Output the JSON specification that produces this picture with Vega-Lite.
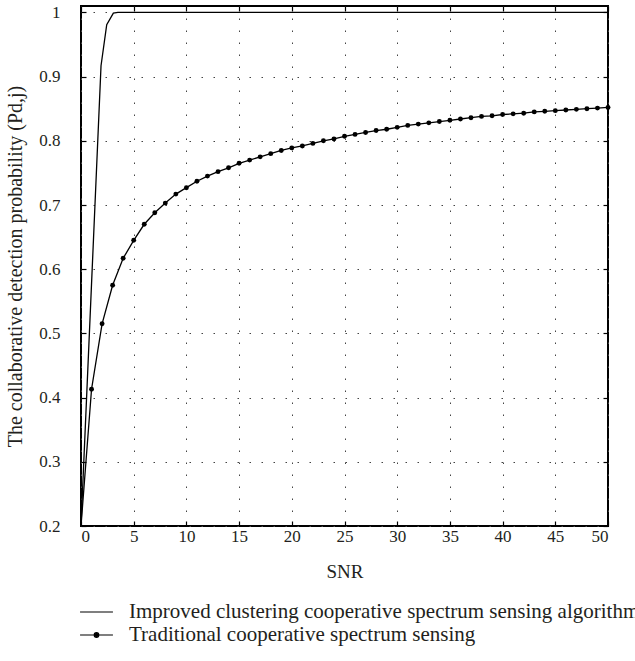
{
  "$schema": "https://vega.github.io/schema/vega-lite/v6.json",
  "width": 527,
  "height": 520,
  "autosize": {"type": "none"},
  "padding": {"left": 81, "top": 6, "right": 27, "bottom": 135},
  "background": "white",
  "config": {
    "font": "Liberation Serif",
    "view": {"stroke": "#000", "strokeWidth": 2},
    "axis": {"labelFont": "Liberation Serif", "titleFont": "Liberation Serif", "labelColor": "#231f20", "titleColor": "#231f20"}
  },
  "data": {
    "values": [
      {"snr": 0, "pd": 0.2, "series": "Improved clustering cooperative spectrum sensing algorithm"},
      {"snr": 1.9, "pd": 0.917, "series": "Improved clustering cooperative spectrum sensing algorithm"},
      {"snr": 2.44, "pd": 0.981, "series": "Improved clustering cooperative spectrum sensing algorithm"},
      {"snr": 3.07, "pd": 0.999, "series": "Improved clustering cooperative spectrum sensing algorithm"},
      {"snr": 3.5, "pd": 1.0, "series": "Improved clustering cooperative spectrum sensing algorithm"},
      {"snr": 50, "pd": 1.0, "series": "Improved clustering cooperative spectrum sensing algorithm"},
      {"snr": 0, "pd": 0.2, "series": "Traditional cooperative spectrum sensing"},
      {"snr": 1, "pd": 0.413, "series": "Traditional cooperative spectrum sensing"},
      {"snr": 2, "pd": 0.515, "series": "Traditional cooperative spectrum sensing"},
      {"snr": 3, "pd": 0.575, "series": "Traditional cooperative spectrum sensing"},
      {"snr": 4, "pd": 0.617, "series": "Traditional cooperative spectrum sensing"},
      {"snr": 5, "pd": 0.645, "series": "Traditional cooperative spectrum sensing"},
      {"snr": 6, "pd": 0.670, "series": "Traditional cooperative spectrum sensing"},
      {"snr": 7, "pd": 0.688, "series": "Traditional cooperative spectrum sensing"},
      {"snr": 8, "pd": 0.703, "series": "Traditional cooperative spectrum sensing"},
      {"snr": 9, "pd": 0.717, "series": "Traditional cooperative spectrum sensing"},
      {"snr": 10, "pd": 0.727, "series": "Traditional cooperative spectrum sensing"},
      {"snr": 11, "pd": 0.737, "series": "Traditional cooperative spectrum sensing"},
      {"snr": 12, "pd": 0.745, "series": "Traditional cooperative spectrum sensing"},
      {"snr": 13, "pd": 0.752, "series": "Traditional cooperative spectrum sensing"},
      {"snr": 14, "pd": 0.758, "series": "Traditional cooperative spectrum sensing"},
      {"snr": 15, "pd": 0.765, "series": "Traditional cooperative spectrum sensing"},
      {"snr": 16, "pd": 0.770, "series": "Traditional cooperative spectrum sensing"},
      {"snr": 17, "pd": 0.775, "series": "Traditional cooperative spectrum sensing"},
      {"snr": 18, "pd": 0.780, "series": "Traditional cooperative spectrum sensing"},
      {"snr": 19, "pd": 0.785, "series": "Traditional cooperative spectrum sensing"},
      {"snr": 20, "pd": 0.789, "series": "Traditional cooperative spectrum sensing"},
      {"snr": 21, "pd": 0.792, "series": "Traditional cooperative spectrum sensing"},
      {"snr": 22, "pd": 0.796, "series": "Traditional cooperative spectrum sensing"},
      {"snr": 23, "pd": 0.800, "series": "Traditional cooperative spectrum sensing"},
      {"snr": 24, "pd": 0.803, "series": "Traditional cooperative spectrum sensing"},
      {"snr": 25, "pd": 0.807, "series": "Traditional cooperative spectrum sensing"},
      {"snr": 26, "pd": 0.810, "series": "Traditional cooperative spectrum sensing"},
      {"snr": 27, "pd": 0.813, "series": "Traditional cooperative spectrum sensing"},
      {"snr": 28, "pd": 0.816, "series": "Traditional cooperative spectrum sensing"},
      {"snr": 29, "pd": 0.818, "series": "Traditional cooperative spectrum sensing"},
      {"snr": 30, "pd": 0.821, "series": "Traditional cooperative spectrum sensing"},
      {"snr": 31, "pd": 0.824, "series": "Traditional cooperative spectrum sensing"},
      {"snr": 32, "pd": 0.826, "series": "Traditional cooperative spectrum sensing"},
      {"snr": 33, "pd": 0.828, "series": "Traditional cooperative spectrum sensing"},
      {"snr": 34, "pd": 0.830, "series": "Traditional cooperative spectrum sensing"},
      {"snr": 35, "pd": 0.832, "series": "Traditional cooperative spectrum sensing"},
      {"snr": 36, "pd": 0.834, "series": "Traditional cooperative spectrum sensing"},
      {"snr": 37, "pd": 0.836, "series": "Traditional cooperative spectrum sensing"},
      {"snr": 38, "pd": 0.838, "series": "Traditional cooperative spectrum sensing"},
      {"snr": 39, "pd": 0.839, "series": "Traditional cooperative spectrum sensing"},
      {"snr": 40, "pd": 0.841, "series": "Traditional cooperative spectrum sensing"},
      {"snr": 41, "pd": 0.842, "series": "Traditional cooperative spectrum sensing"},
      {"snr": 42, "pd": 0.843, "series": "Traditional cooperative spectrum sensing"},
      {"snr": 43, "pd": 0.845, "series": "Traditional cooperative spectrum sensing"},
      {"snr": 44, "pd": 0.846, "series": "Traditional cooperative spectrum sensing"},
      {"snr": 45, "pd": 0.847, "series": "Traditional cooperative spectrum sensing"},
      {"snr": 46, "pd": 0.848, "series": "Traditional cooperative spectrum sensing"},
      {"snr": 47, "pd": 0.849, "series": "Traditional cooperative spectrum sensing"},
      {"snr": 48, "pd": 0.850, "series": "Traditional cooperative spectrum sensing"},
      {"snr": 49, "pd": 0.851, "series": "Traditional cooperative spectrum sensing"},
      {"snr": 50, "pd": 0.852, "series": "Traditional cooperative spectrum sensing"}
    ]
  },
  "layer": [
    {
      "mark": {"type": "line", "strokeWidth": 1.3, "clip": true},
      "encoding": {
        "x": {"field": "snr", "type": "quantitative", "scale": {"domain": [0, 50], "nice": false},
          "axis": {"orient": "bottom", "title": "SNR", "titleFontSize": 19, "titleFontWeight": "normal", "titlePadding": 18,
            "values": [0,5,10,15,20,25,30,35,40,45,50], "format": "~g", "labelFontSize": 17, "labelPadding": 7, "tickSize": -5, "tickColor": "#000", "tickWidth": 1.2,
            "domain": false, "grid": true, "gridColor": "#444", "gridDash": [1.5, 10.5], "gridWidth": 1}},
        "y": {"field": "pd", "type": "quantitative", "scale": {"domain": [0.2, 1.01], "nice": false, "zero": false},
          "axis": {"orient": "left", "title": "The collaborative detection probability (Pd,j)", "titleFontSize": 20, "titleFontWeight": "normal", "titlePadding": 13,
            "values": [0.2,0.3,0.4,0.5,0.6,0.7,0.8,0.9,1], "format": "~g", "labelFontSize": 17, "labelPadding": 26, "tickSize": -5, "tickColor": "#000", "tickWidth": 1.2,
            "domain": false, "grid": true, "gridColor": "#444", "gridDash": [1.5, 10.5], "gridWidth": 1,
            "encode": {"labels": {"update": {"dx": {"signal": "datum.value === 1 ? 24 : 0"}}}}}},
        "color": {"field": "series", "type": "nominal",
          "scale": {"domain": ["Improved clustering cooperative spectrum sensing algorithm", "Traditional cooperative spectrum sensing"], "range": ["#000", "#000"]},
          "legend": {"orient": "none", "legendX": 3, "legendY": 593.5, "title": null, "padding": 0, "rowPadding": 0,
            "labelFont": "Liberation Serif", "labelFontSize": 21, "labelColor": "#231f20", "labelOffset": 20, "labelLimit": 1000,
            "symbolSize": 529, "symbolStrokeWidth": 1.2, "symbolStrokeColor": "#000",
            "encode": {"symbols": {"update": {"shape": {"signal": "datum.value === 'Traditional cooperative spectrum sensing' ? 'M-1.43,0H1.43M-0.2,0A0.2,0.2 0 1 1 0.2,0A0.2,0.2 0 1 1 -0.2,0Z' : 'M-1.43,0H1.43'"}, "fill": {"value": "#000"}, "stroke": {"value": "#000"}}}}}}
      }
    },
    {
      "transform": [{"filter": "datum.series === 'Traditional cooperative spectrum sensing' && datum.snr > 0"}],
      "mark": {"type": "point", "filled": true, "color": "#000", "size": 24, "opacity": 1},
      "encoding": {
        "x": {"field": "snr", "type": "quantitative", "axis": null},
        "y": {"field": "pd", "type": "quantitative", "axis": null}
      }
    },
    {
      "mark": {"type": "line", "opacity": 0},
      "encoding": {
        "x": {"field": "snr", "type": "quantitative",
          "axis": {"orient": "top", "title": null, "labels": false, "values": [0,5,10,15,20,25,30,35,40,45,50], "tickSize": -5, "tickColor": "#000", "tickWidth": 1.2, "domain": false, "grid": false}},
        "y": {"field": "pd", "type": "quantitative",
          "axis": {"orient": "right", "title": null, "labels": false, "values": [0.2,0.3,0.4,0.5,0.6,0.7,0.8,0.9,1], "tickSize": -5, "tickColor": "#000", "tickWidth": 1.2, "domain": false, "grid": false}},
        "detail": {"field": "series"}
      }
    }
  ],
  "resolve": {"axis": {"x": "independent", "y": "independent"}}
}
